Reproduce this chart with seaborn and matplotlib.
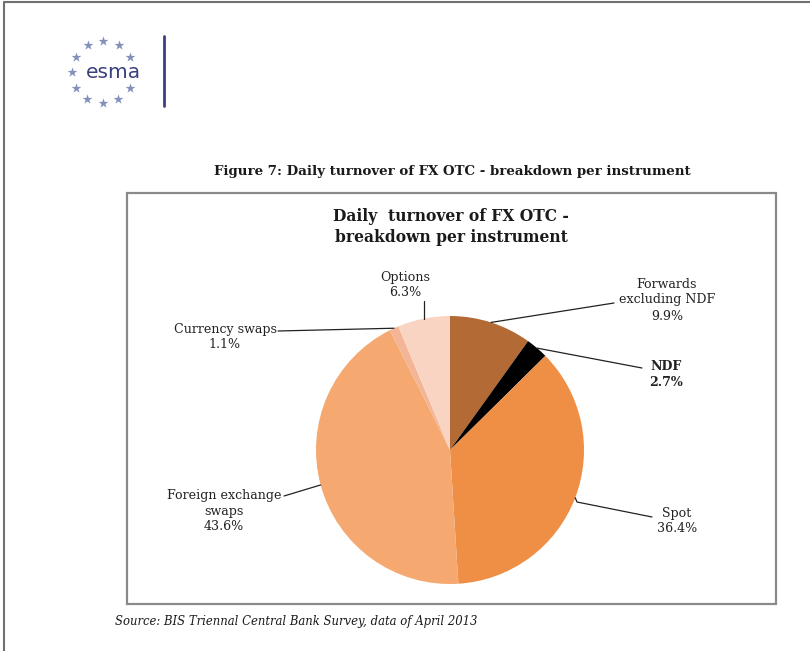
import numpy as np
import matplotlib
matplotlib.use("Agg")
import matplotlib.pyplot as plt
import seaborn as sns

# Daily turnover of FX OTC by instrument (share of total, %)
instruments = ["Forwards\nexcluding NDF", "NDF", "Spot",
               "Foreign exchange\nswaps", "Currency swaps", "Options"]
shares = [9.9, 2.7, 36.4, 43.6, 1.1, 6.3]
slice_colors = ["#B46A35", "#000000", "#EE8F45", "#F5A870", "#F3B595", "#F9D4C2"]

sns.set_style("white")
plt.rcParams["font.family"] = ["DejaVu Serif"]

W, H = 810, 651
fig = plt.figure(figsize=(W / 100, H / 100), dpi=100)
ax = fig.add_axes([0, 0, 1, 1])


def py(y):
    """Convert a top-down pixel row to the axes' bottom-up coordinate."""
    return H - y


palette = sns.color_palette(slice_colors)
cx, cy, r = 450, 450, 134
wedges, _ = ax.pie(shares, colors=palette, startangle=90, counterclock=False,
                   center=(cx, py(cy)), radius=r, frame=True,
                   wedgeprops=dict(linewidth=0))
ax.set_xlim(0, W)
ax.set_ylim(0, H)
ax.set_aspect("equal")
ax.axis("off")

# page frame and chart box
ax.plot([4, 4, W], [0, py(2), py(2)], color="#707070", lw=1.5)
ax.add_patch(plt.Rectangle((127, py(604)), 776 - 127, 604 - 193, fill=False,
                           edgecolor="#8a8a8a", lw=1.6))

# logo
ang = np.linspace(0, 2 * np.pi, 12, endpoint=False)
ax.scatter(103 + 31 * np.cos(ang), py(72) + 31 * np.sin(ang), marker="*",
           s=55, color="#8390BA", linewidths=0)
ax.add_patch(plt.Rectangle((86, py(82)), 54, 20, color="white", zorder=2))
ax.text(113, py(73), "esma", ha="center", va="center", fontsize=14.5,
        family="DejaVu Sans", color="#3A3F7E", zorder=3)
ax.plot([164, 164], [py(36), py(106)], color="#3B4080", lw=2)

# titles
ax.text(452, py(171), "Figure 7: Daily turnover of FX OTC - breakdown per instrument",
        ha="center", va="center", fontsize=9.6, fontweight="bold", color="#1a1a1a")
ax.text(451, py(227), "Daily  turnover of FX OTC -\nbreakdown per instrument",
        ha="center", va="center", fontsize=11.2, fontweight="bold",
        color="#1a1a1a", linespacing=1.25)
ax.text(115, py(622), "Source: BIS Triennal Central Bank Survey, data of April 2013",
        ha="left", va="center", fontsize=8.4, style="italic", color="#1a1a1a")

# slice labels: text centre, leader-line knee points (from label towards pie)
label_layout = [
    dict(text=(667, 300), path=[(614, 303)], bold=False),
    dict(text=(666, 375), path=[(642, 368)], bold=True),
    dict(text=(677, 521), path=[(652, 517), (577, 502)], bold=False),
    dict(text=(224, 511), path=[(284, 496)], bold=False),
    dict(text=(225, 337), path=[(278, 331)], bold=False),
    dict(text=(405, 285), path=[(428, 301)], bold=False),
]

for w, name, val, lay in zip(wedges, instruments, shares, label_layout):
    mid = np.deg2rad((w.theta1 + w.theta2) / 2)
    ex, ey = cx + r * np.cos(mid), py(cy) + r * np.sin(mid)
    xs = [p[0] for p in lay["path"]] + [ex]
    ys = [py(p[1]) for p in lay["path"]] + [ey]
    if name == "Options":
        xs, ys = [ex, ex], [ey, py(301)]
    ax.plot(xs, ys, color="#222222", lw=0.9)
    ax.text(lay["text"][0], py(lay["text"][1]), f"{name}\n{val:.1f}%",
            ha="center", va="center", fontsize=9.1, color="#222222",
            fontweight="bold" if lay["bold"] else "normal", linespacing=1.3)

fig.savefig("out.png", dpi=100)
